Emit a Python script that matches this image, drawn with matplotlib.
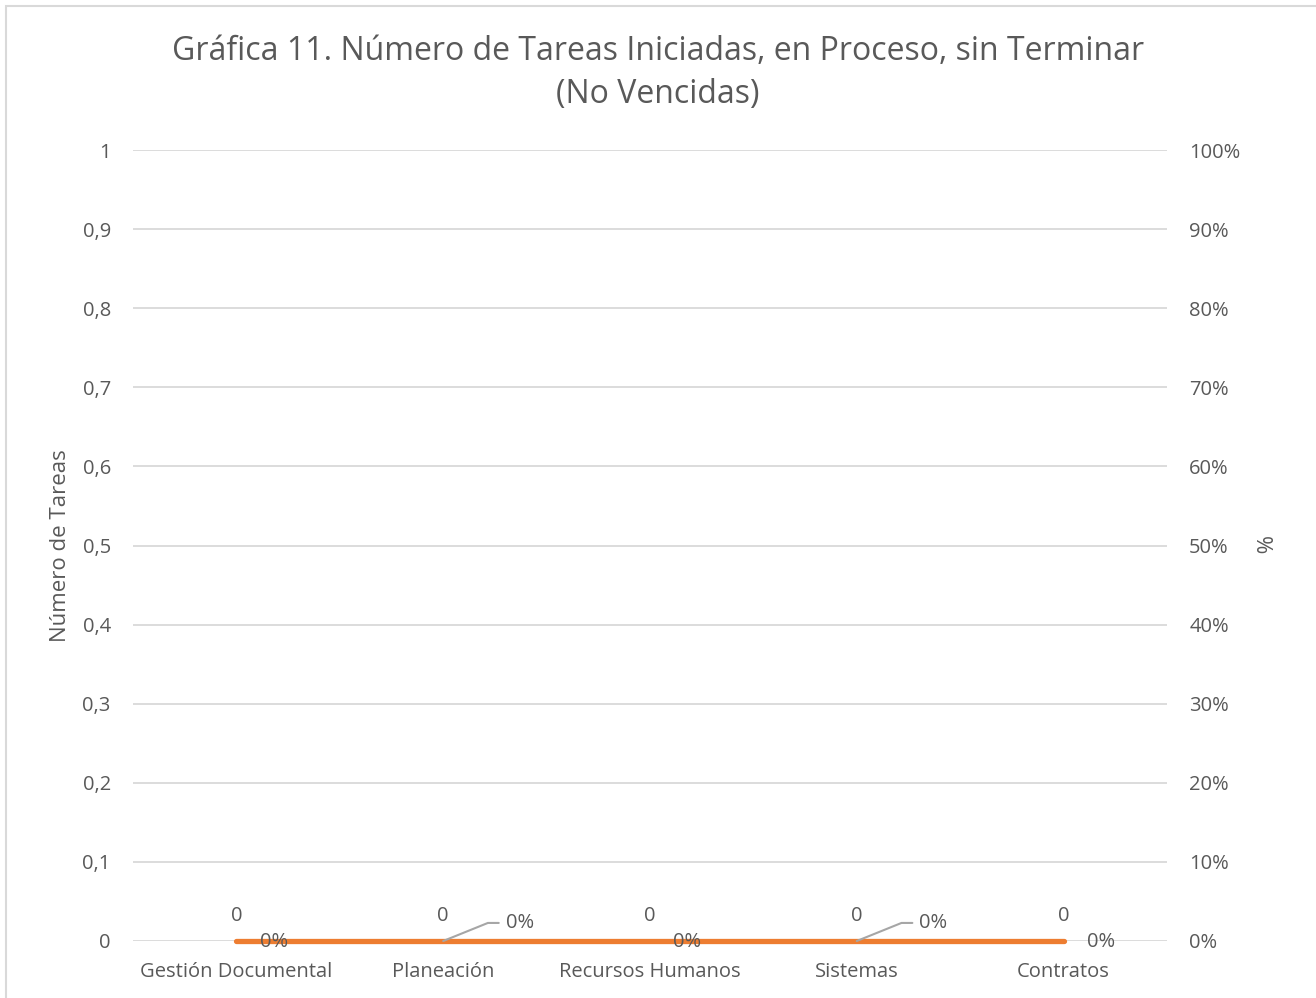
import numpy as np
import matplotlib.pyplot as plt
from matplotlib.patches import Rectangle

categorias = ["Gestión Documental", "Planeación", "Recursos Humanos", "Sistemas", "Contratos"]
tareas = [0, 0, 0, 0, 0]
porcentaje = [0, 0, 0, 0, 0]

gris = "#595959"
plt.rcParams['font.family'] = ['Open Sans', 'DejaVu Sans']

fig = plt.figure(figsize=(13.16, 9.98), dpi=100)
fig.patches.append(Rectangle((6 / 1316, -0.01), 1.02, 1 - 6 / 998 + 0.01, transform=fig.transFigure,
                             fill=False, edgecolor="#D9D9D9", linewidth=1.5))

ax = fig.add_axes([133 / 1316, 1 - 941 / 998, 1034 / 1316, 791 / 998])
x = np.arange(len(categorias))
ax.bar(x, tareas, width=0.6, color="#4472C4")
ax.set_xlim(-0.5, len(categorias) - 0.5)
ax.set_ylim(0, 1)
ax.set_yticks(np.arange(0, 1.01, 0.1))
ax.set_yticklabels(["0", "0,1", "0,2", "0,3", "0,4", "0,5", "0,6", "0,7", "0,8", "0,9", "1"])
ax.set_xticks(x)
ax.set_xticklabels(categorias)
ax.grid(axis="y", color="#D9D9D9", linewidth=1.3)
ax.set_axisbelow(True)
for s in ax.spines.values():
    s.set_visible(False)
ax.tick_params(length=0, labelsize=14.5, colors=gris, pad=16)
ax.tick_params(axis="x", pad=15)
ax.set_ylabel("Número de Tareas", fontsize=16, color=gris, labelpad=8)

for i, v in enumerate(tareas):
    ax.annotate(str(v), (x[i], v), xytext=(0, 18), textcoords="offset points",
                ha="center", va="center", fontsize=14.5, color=gris)

ax2 = ax.twinx()
ax2.plot(x, porcentaje, color="#ED7D31", linewidth=3.8, solid_capstyle="round", clip_on=False)
ax2.set_ylim(0, 1)
ax2.set_yticks(np.arange(0, 1.01, 0.1))
ax2.set_yticklabels([f"{int(round(t * 100))}%" for t in np.arange(0, 1.01, 0.1)])
for s in ax2.spines.values():
    s.set_visible(False)
ax2.tick_params(length=0, labelsize=14.5, colors=gris, pad=16)
ax2.set_ylabel("%", fontsize=16, color=gris, rotation=-90, labelpad=22)

# etiquetas de porcentaje
offsets = [(27, -1), (45, 13), (27, -1), (45, 13), (27, -1)]
for i, v in enumerate(porcentaje):
    dx, dy = offsets[i]
    if dy > 0:
        ax2.annotate(f"{v}%", (x[i], v), xytext=(dx, dy), textcoords="offset points",
                     ha="left", va="center", fontsize=14.5, color=gris,
                     arrowprops=dict(arrowstyle="-", color="#A6A6A6", lw=1.5,
                                     connectionstyle="angle,angleA=0,angleB=22,rad=0",
                                     shrinkA=3, shrinkB=0, relpos=(0, 0.5)))
    else:
        ax2.annotate(f"{v}%", (x[i], v), xytext=(dx, dy), textcoords="offset points",
                     ha="center", va="center", fontsize=14.5, color=gris)

fig.text(0.5, 1 - 73 / 998,
         "Gráfica 11. Número de Tareas Iniciadas, en Proceso, sin Terminar\n(No Vencidas)",
         fontsize=23, color=gris, ha="center", va="center", linespacing=1.42)

fig.savefig("out.png", dpi=100)
